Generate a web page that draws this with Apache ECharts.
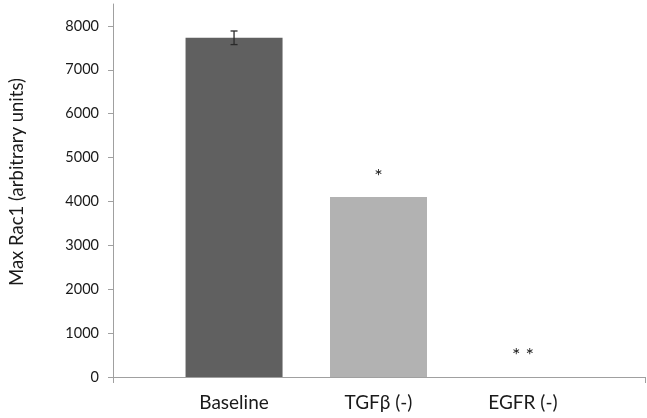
<!DOCTYPE html>
<html>
<head>
<meta charset="utf-8">
<script src="https://cdn.jsdelivr.net/npm/echarts@6/dist/echarts.min.js"></script>
<style>
  html, body { margin: 0; padding: 0; background: #fff; }
  #chart { width: 647px; height: 418px; }
</style>
</head>
<body>
<div id="chart"></div>
<script>
// values
const categories = ['Baseline', 'TGF\u03b2 (-)', 'EGFR (-)'];
const positions = [1, 2, 3];
const values = [7730, 4100, 0];
const errors = [155, null, null];
const sigMarks = ['', '*', '* *'];
const barColors = ['#606060', '#b2b2b2', '#b2b2b2'];
const yTicks = [0, 1000, 2000, 3000, 4000, 5000, 6000, 7000, 8000];

const xMin = 0.162, xMax = 3.845;
const font = 'Lato';
const textColor = '#1a1a1a';
const axisColor = '#a0a0a0';

const chart = echarts.init(document.getElementById('chart'));

const option = {
  animation: false,
  grid: { left: 111, right: 2, top: 4, bottom: 41, containLabel: false },
  xAxis: {
    type: 'value',
    min: xMin,
    max: xMax,
    splitLine: { show: false },
    axisLine: { show: true, lineStyle: { color: axisColor, width: 1 } },
    axisTick: { show: true, length: 6, customValues: [xMin, xMax], lineStyle: { color: axisColor } },
    axisLabel: {
      customValues: positions,
      margin: 16,
      fontFamily: font,
      fontSize: 19,
      color: textColor,
      formatter: v => categories[positions.indexOf(v)] || ''
    }
  },
  yAxis: {
    type: 'value',
    min: 0,
    max: 8500,
    name: 'Max Rac1 (arbitrary units)',
    nameLocation: 'middle',
    nameGap: 86,
    nameTextStyle: { fontFamily: font, fontSize: 18.5, color: textColor, padding: [0, 0, 0, 17] },
    splitLine: { show: false },
    axisLine: { show: true, lineStyle: { color: axisColor, width: 1 } },
    axisTick: { show: true, length: 5, customValues: yTicks, lineStyle: { color: axisColor } },
    axisLabel: {
      customValues: yTicks,
      margin: 14,
      fontFamily: font,
      fontSize: 14.5,
      color: textColor,
      formatter: v => String(v)
    }
  },
  series: [
    {
      type: 'bar',
      barWidth: 97,
      data: positions.map((p, i) => ({
        value: [p, values[i]],
        itemStyle: { color: barColors[i] }
      })),
      label: {
        show: true,
        position: 'top',
        distance: 11,
        fontFamily: font,
        fontSize: 20,
        color: textColor,
        formatter: p => sigMarks[p.dataIndex]
      }
    },
    {
      type: 'custom',
      data: positions.map((p, i) => errors[i] == null ? null : [p, values[i] - errors[i], values[i] + errors[i]])
        .filter(d => d),
      renderItem: (params, api) => {
        const lo = api.coord([api.value(0), api.value(1)]);
        const hi = api.coord([api.value(0), api.value(2)]);
        const cap = 3.5;
        const style = { stroke: '#2a2a2a', lineWidth: 1.3 };
        return {
          type: 'group',
          children: [
            { type: 'line', shape: { x1: hi[0], y1: hi[1], x2: lo[0], y2: lo[1] }, style },
            { type: 'line', shape: { x1: hi[0] - cap, y1: hi[1], x2: hi[0] + cap, y2: hi[1] }, style },
            { type: 'line', shape: { x1: lo[0] - cap, y1: lo[1], x2: lo[0] + cap, y2: lo[1] }, style }
          ]
        };
      },
      z: 5
    }
  ]
};

chart.setOption(option);
</script>
</body>
</html>
